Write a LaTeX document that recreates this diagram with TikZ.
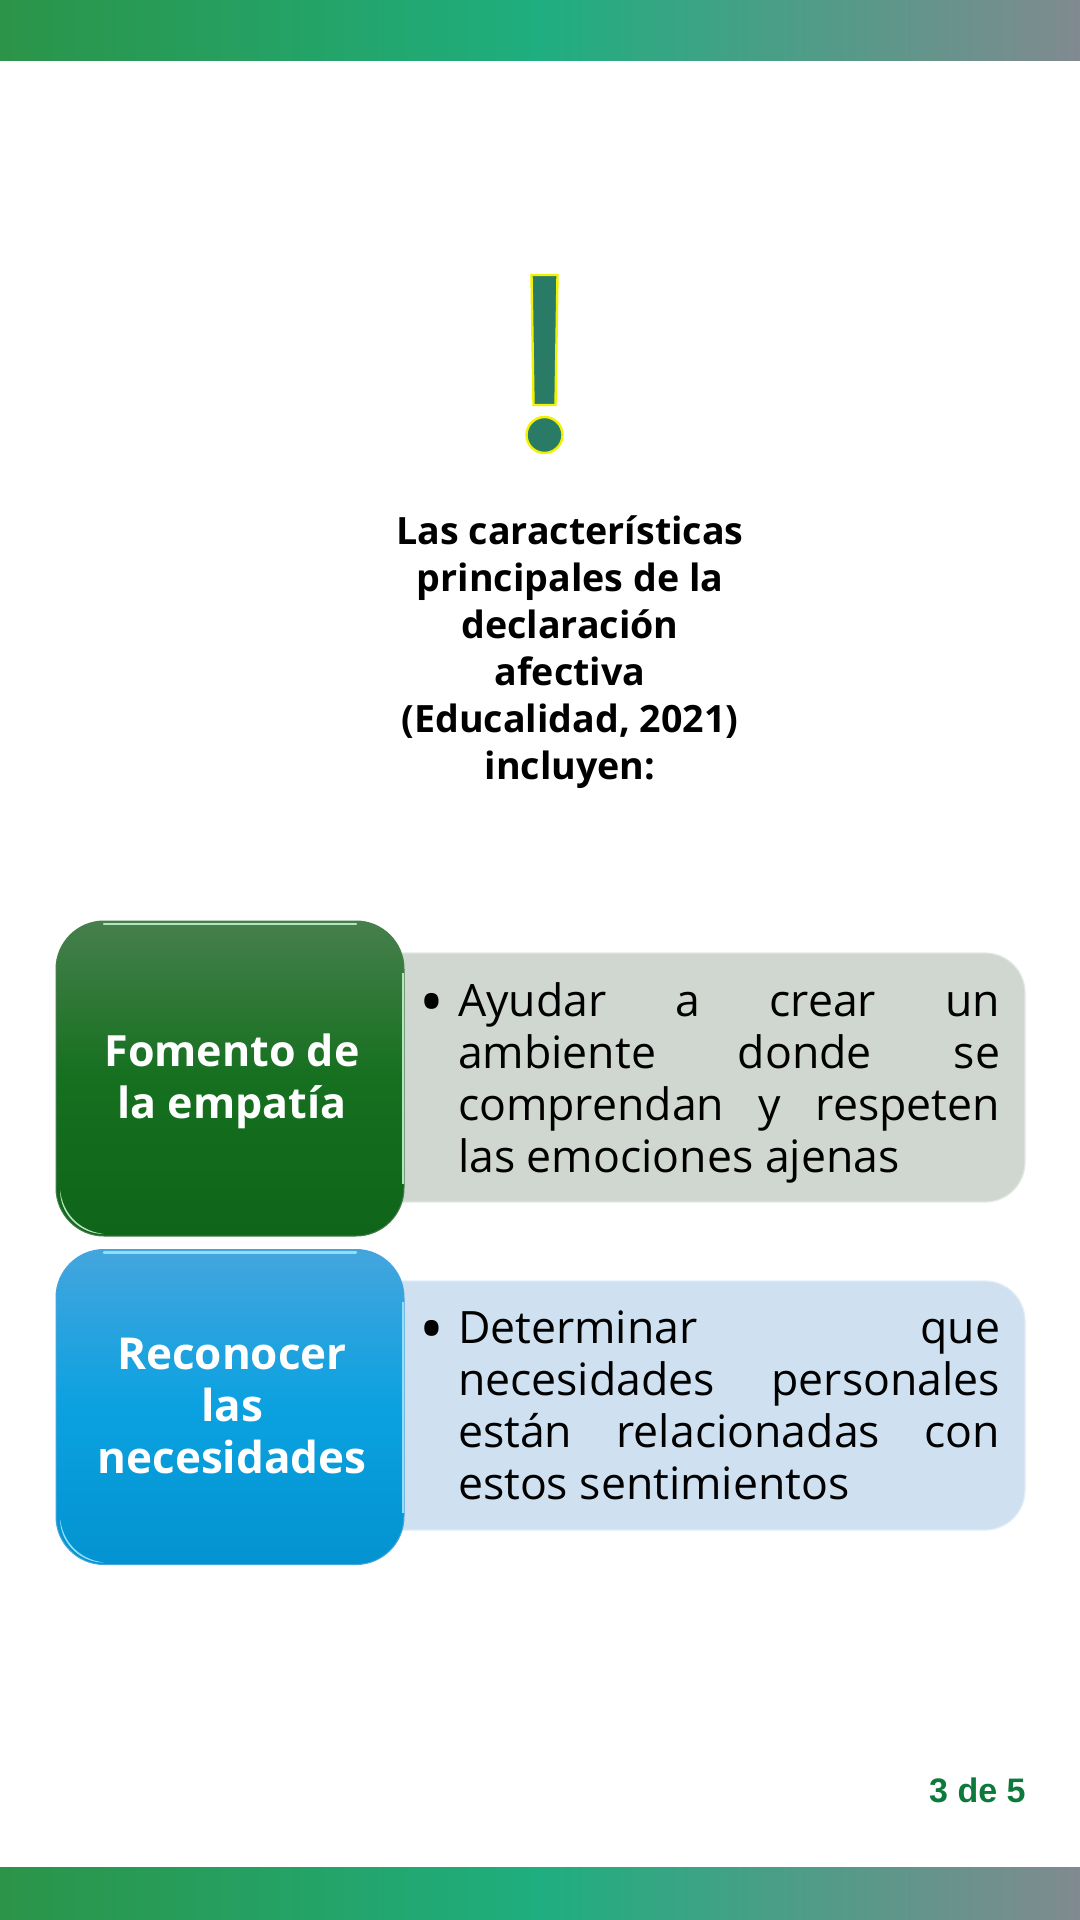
\documentclass[tikz,border=0pt]{standalone}
\usepackage{fontspec}
\setmainfont{Open Sans}
\newfontfamily\pagefont{Liberation Sans}
\usetikzlibrary{positioning}
\definecolor{barleft}{HTML}{2B9448}
\definecolor{barmid}{HTML}{1FAE7F}
\definecolor{barright}{HTML}{808A90}
\definecolor{markfill}{HTML}{2A7B65}
\definecolor{markrim}{HTML}{F2F200}
\definecolor{greentop}{HTML}{467F4C}
\definecolor{greenmid}{HTML}{15701F}
\definecolor{greenbot}{HTML}{0F651A}
\definecolor{greenrim}{HTML}{B5E5BC}
\definecolor{bluetop}{HTML}{44A5DE}
\definecolor{bluemid}{HTML}{0BA1E0}
\definecolor{bluebot}{HTML}{0393D0}
\definecolor{bluerim}{HTML}{8FE0FF}
\definecolor{greypanel}{HTML}{D0D7D0}
\definecolor{bluepanel}{HTML}{CFE1F0}
\definecolor{pagegreen}{HTML}{0B7A3B}
\newcommand{\itemdot}{\llap{\fontsize{33}{26}\selectfont\raisebox{-4.5pt}{•}\hspace{7pt}}}
\hbadness=10000
\hfuzz=5pt
\begin{document}
\begin{tikzpicture}[x=0.5pt,y=-0.5pt]
\tikzstyle{bar}=[rectangle, inner sep=0pt, outer sep=0pt, minimum width=540pt, left color=barleft, right color=barright, middle color=barmid]
\tikzstyle{exclaim}=[draw=markrim, fill=markfill, line width=1.2pt]
\tikzstyle{panel}=[rectangle, rounded corners=20pt, inner sep=0pt, outer sep=0pt, minimum width=335.5pt, minimum height=124.5pt, line width=0.6pt]
\tikzstyle{head}=[rectangle, rounded corners=24pt, inner sep=0pt, outer sep=0pt, minimum width=174pt, minimum height=157.5pt, line width=0.5pt]
\tikzstyle{headtext}=[inner sep=0pt, align=center, text=white, xshift=1pt, font=\fontsize{21.5}{26}\selectfont\bfseries]
\tikzstyle{body}=[inner sep=0pt, text width=271pt, align=justify, xshift=19.75pt, font=\fontsize{22.3}{26}\selectfont]
\tikzstyle{rim}=[line width=1.2pt, line cap=round]
  \fill[white] (0,0) rectangle (1080,1920);
  \node[bar, minimum height=30.5pt] (topbar) at (540,30.5) {};
  \node[bar, minimum height=26.5pt] (bottombar) at (540,1893.5) {};
  \draw[exclaim] (531.5,275) -- (557.5,275) -- (555.5,405) -- (533.5,405) -- cycle;
  \node[exclaim, circle, inner sep=0pt, minimum size=18pt] (markdot) at (544.5,435) {};
  \node[align=center, font=\fontsize{18.8}{23.5}\selectfont\bfseries] (title) at (570,652) {Las características\\principales de la\\declaración\\afectiva\\(Educalidad, 2021)\\incluyen:};
  \node[panel, fill=greypanel, draw=greypanel!60!white] (empatiapanel) at (689.5,1077.5) {};
  \node[panel, fill=bluepanel, draw=bluepanel!60!white] (necesidadpanel) [below=39.5pt of empatiapanel] {};
  \node[head, top color=greentop, bottom color=greenbot, middle color=greenmid, draw=greentop, yshift=-0.5pt] (empatia) [left=-25pt of empatiapanel] {};
  \node[head, top color=bluetop, bottom color=bluebot, middle color=bluemid, draw=bluetop, yshift=-0.75pt] (necesidad) [left=-25pt of necesidadpanel] {};
  % light edges of the two boxes
  \foreach \boxname/\rimcolor in {empatia/greenrim, necesidad/bluerim} {
    \draw[rim, draw=\rimcolor] ([xshift=24pt,yshift=-1.5pt]\boxname.north west) -- ([xshift=-24pt,yshift=-1.5pt]\boxname.north east);
    \draw[line width=0.6pt, draw=\rimcolor] ([yshift=-26pt,xshift=-0.5pt]\boxname.north east) -- ([yshift=26pt,xshift=-0.5pt]\boxname.south east);
    \coordinate (\boxname from) at ([xshift=2pt,yshift=23pt]\boxname.south west);
    \fill[fill=\rimcolor] (\boxname from) arc (180:270:22pt) to[bend left=38] (\boxname from);
  }
  \node[headtext, yshift=-1.5pt] (empatialabel) at (empatia) {Fomento de\\la empatía};
  \node[headtext, yshift=0.75pt, font=\fontsize{22}{26}\selectfont\bfseries] (necesidadlabel) at (necesidad) {Reconocer\\las\\necesidades};
  \node[body, yshift=-2.5pt] (empatiatext) at (empatiapanel) {\itemdot Ayudar a crear un\linebreak ambiente donde se\linebreak comprendan y respeten\linebreak las emociones ajenas};
  \node[body] (necesidadtext) at (necesidadpanel) {\itemdot Determinar que\linebreak necesidades personales\linebreak están relacionadas con\linebreak estos sentimientos};
  \node[anchor=base east, inner sep=0pt, text=pagegreen, font=\fontsize{17}{20}\selectfont\pagefont\bfseries] (pagina) at (1026,1802) {3 de 5};
\end{tikzpicture}
\end{document}
